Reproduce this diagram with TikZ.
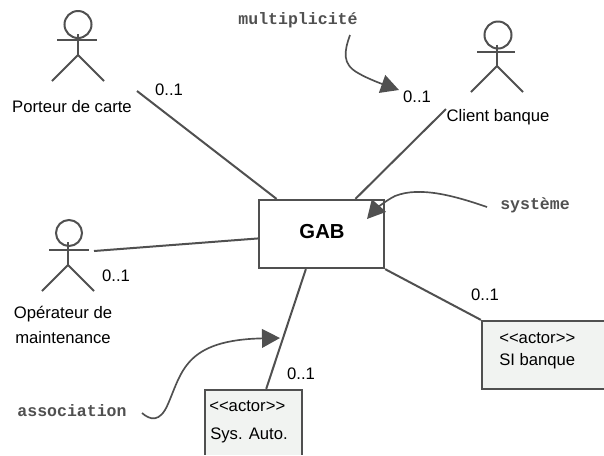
\documentclass[tikz,border=0pt]{standalone}
\usepackage{fontspec}
\setmainfont{Liberation Sans}
\setmonofont{Liberation Mono}
\usetikzlibrary{arrows.meta}
\definecolor{ink}{HTML}{505050}
\definecolor{boxfill}{HTML}{F1F3F1}
\tikzset{
  limb/.style={draw=ink,line width=1.5pt},
  assoc/.style={draw=ink,line width=1.5pt},
  boxed/.style={draw=ink,line width=1.7pt,inner sep=0pt,rectangle},
  lbl/.style={font=\fontsize{12.5}{14}\selectfont,text=black,inner sep=0pt},
  small/.style={font=\fontsize{12.5}{14}\selectfont,text=black,inner sep=0pt,anchor=base west},
  note/.style={font=\ttfamily\bfseries\fontsize{12.4}{14}\selectfont,text=ink,inner sep=0pt},
  pointer/.style={draw=ink,line width=1.25pt,-{Triangle[length=13.5pt,width=14pt,fill=ink]}}
}
\newcommand{\actor}[9]{%
  \draw[limb] (#1,#2) circle[radius=#3];
  \draw[limb] (#4,#2+#3-4) -- (#4,#8);
  \draw[limb] (#6,#5) -- (#7,#5);
  \draw[limb] (#4-#9,#8+#9) -- (#4,#8) -- (#4+#9,#8+#9);
}
\begin{document}
\begin{tikzpicture}[x=0.75pt,y=-0.75pt]
\useasboundingbox (0,0) rectangle (604,455);
\actor{78}{24.5}{13.5}{78}{40}{57}{97}{55}{26}
\actor{498}{35}{13.5}{497}{52}{477}{515}{66}{26}
\actor{69}{233}{13}{68}{250}{49}{89}{265}{26}
\node[boxed,fill=white,minimum width=125pt*0.75,minimum height=68pt*0.75] (gab) at (321.5,234) {};
\node[font=\bfseries\fontsize{15.2}{18}\selectfont,inner sep=0pt] (gabt) at (322,232) {GAB};
\node[boxed,fill=boxfill,minimum width=140pt*0.75,minimum height=68pt*0.75] (si) at (552,355) {};
\node[boxed,fill=boxfill,minimum width=97pt*0.75,minimum height=76pt*0.75] (sys) at (253.5,428) {};
\fill[white] (190,455) rectangle (320,470);
\node[lbl] (porteur) at (72,107) {Porteur de carte};
\node[lbl] (client) at (498,117) {Client banque};
\node[lbl,align=center] (oper) at (63,325) {Opérateur de\\[5pt]maintenance};
\node[small] (si1) at (499,343) {<{}<actor>{}>};
\node[small] (si2) at (499,365) {SI banque};
\node[small] (sys1) at (209,411) {<{}<actor>{}>};
\node[small] (sys2) at (210,439) {Sys. Auto.};
\node[lbl] (m1) at (169,90) {0..1};
\node[lbl] (m2) at (417,97) {0..1};
\node[lbl] (m3) at (116,276) {0..1};
\node[lbl] (m4) at (301,374) {0..1};
\node[lbl] (m5) at (485,295) {0..1};
\node[note] (nm) at (298,20) {multiplicité};
\node[note] (ns) at (535,205) {système};
\node[note] (na) at (72,411) {association};
\coordinate (p1) at (137,91);
\coordinate (c1) at (446,109);
\coordinate (o1) at (94,251);
\draw[assoc] (p1) -- (gab.142.6);
\draw[assoc] (c1) -- (gab.46.3);
\draw[assoc] (o1) -- (gab.184.5);
\draw[assoc] (gab.south east) -- (si.north west);
\draw[assoc] (gab.246.9) -- (sys.72);
\coordinate (ms) at (350,35);
\coordinate (mt) at (399,90);
\coordinate (ss) at (487,207);
\coordinate (st) at (367,219);
\coordinate (as) at (142,413);
\coordinate (at) at (280,338);
\draw[pointer] (ms) .. controls (344,52) and (342,64) .. (358,73) .. controls (368,79) and (385,85) .. (mt);
\draw[pointer] (ss) .. controls (455,196) and (420,186) .. (395,196) .. controls (385,201) and (375,210) .. (st);
\draw[pointer] (as) .. controls (150,420) and (160,423) .. (168,404) .. controls (182,372) and (185,340) .. (at);
\end{tikzpicture}
\end{document}
